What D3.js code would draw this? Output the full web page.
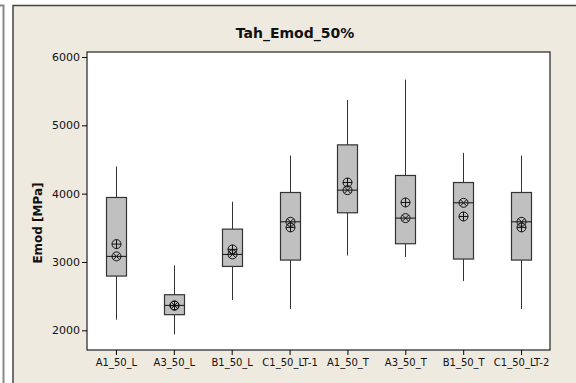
<!DOCTYPE html>
<html>
<head>
<meta charset="utf-8">
<title>Tah_Emod_50%</title>
<script src="https://d3js.org/d3.v7.min.js"></script>
<style>
    body { margin: 0; background: #fff; }
    svg { display: block; }
    text { font-family: "DejaVu Sans", Verdana, sans-serif; fill: #111; }
</style>
</head>
<body>
<div id="chart"></div>
<script>
    // values (MPa)
    const categories = ["A1_50_L", "A3_50_L", "B1_50_L", "C1_50_LT-1", "A1_50_T", "A3_50_T", "B1_50_T", "C1_50_LT-2"];
    const whiskerLow  = [2156, 1942, 2443, 2312, 3096, 3072, 2721, 2312];
    const q1          = [2794, 2229, 2935, 3028, 3720, 3267, 3043, 3028];
    const median      = [3082, 2365, 3111, 3588, 4051, 3642, 3866, 3588];
    const q3          = [3944, 2521, 3481, 4017, 4714, 4266, 4163, 4017];
    const whiskerHigh = [4397, 2950, 3881, 4558, 5372, 5669, 4597, 4558];
    const mean        = [3262, 2360, 3184, 3506, 4163, 3871, 3666, 3506];
    const yTicks = [2000, 3000, 4000, 5000, 6000];

    const width = 576, height = 383;
    const plot = { left: 87, right: 550, top: 52, bottom: 350 };

    const svg = d3.select("#chart").append("svg")
        .attr("width", width)
        .attr("height", height);

    // window background + frames
    svg.append("rect").attr("width", width).attr("height", height).attr("fill", "#fff");
    svg.append("rect")
        .attr("x", 13).attr("y", 5.5)
        .attr("width", width).attr("height", height)
        .attr("fill", "#eeeae0")
        .attr("stroke", "#444").attr("stroke-width", 1.5);
    svg.append("path")
        .attr("d", `M0,5.5H3.5V${height}`)
        .attr("fill", "none").attr("stroke", "#888").attr("stroke-width", 2);

    const x = d3.scalePoint()
        .domain(categories)
        .range([plot.left, plot.right])
        .padding(0.5);

    const y = d3.scaleLinear()
        .domain([1712, 6073])
        .range([plot.bottom, plot.top]);

    svg.append("rect")
        .attr("x", plot.left).attr("y", plot.top)
        .attr("width", plot.right - plot.left)
        .attr("height", plot.bottom - plot.top)
        .attr("fill", "#fff")
        .attr("stroke", "#222").attr("stroke-width", 1.2);

    // axes
    const yAxis = svg.append("g")
        .attr("transform", `translate(${plot.left},0)`)
        .call(d3.axisLeft(y).tickValues(yTicks).tickSize(5).tickPadding(2).tickFormat(d3.format("d")));
    yAxis.select(".domain").remove();
    yAxis.selectAll("text").style("font-size", "11px").attr("fill", "#111");

    const xAxis = svg.append("g")
        .attr("transform", `translate(0,${plot.bottom})`)
        .call(d3.axisBottom(x).tickSize(5).tickPadding(4));
    xAxis.select(".domain").remove();
    xAxis.selectAll("text").style("font-size", "10px").attr("fill", "#111");

    // boxes
    const boxW = 20;
    const rows = categories.map((c, i) => ({
        c, lo: whiskerLow[i], q1: q1[i], med: median[i], q3: q3[i], hi: whiskerHigh[i], mean: mean[i]
    }));

    const g = svg.append("g");
    const box = g.selectAll("g.box").data(rows).enter().append("g")
        .attr("class", "box")
        .attr("transform", d => `translate(${Math.round(x(d.c)) + 0.5},0)`);

    box.append("line")
        .attr("y1", d => y(d.hi)).attr("y2", d => y(d.q3))
        .attr("stroke", "#333");
    box.append("line")
        .attr("y1", d => y(d.q1)).attr("y2", d => y(d.lo))
        .attr("stroke", "#333");
    box.append("rect")
        .attr("x", -boxW / 2)
        .attr("y", d => y(d.q3))
        .attr("width", boxW)
        .attr("height", d => y(d.q1) - y(d.q3))
        .attr("fill", "#c0c0c0")
        .attr("stroke", "#333").attr("stroke-width", 1.2);
    box.append("line")
        .attr("x1", -boxW / 2).attr("x2", boxW / 2)
        .attr("y1", d => y(d.med)).attr("y2", d => y(d.med))
        .attr("stroke", "#111");

    // symbols: circle-cross at median, circle-plus at mean
    const r = 4.5;
    const sym = (sel, val, kind) => {
        const s = sel.append("g").attr("transform", d => `translate(0,${y(val(d))})`);
        s.append("circle").attr("r", r).attr("fill", "none").attr("stroke", "#111");
        const k = kind === "x" ? r * 0.707 : r;
        if (kind === "x") {
            s.append("path").attr("d", `M${-k},${-k}L${k},${k}M${-k},${k}L${k},${-k}`).attr("stroke", "#111");
        } else {
            s.append("path").attr("d", `M${-k},0H${k}M0,${-k}V${k}`).attr("stroke", "#111");
        }
    };
    sym(box, d => d.med, "x");
    sym(box, d => d.mean, "+");

    // titles
    svg.append("text")
        .attr("x", 295).attr("y", 38)
        .attr("text-anchor", "middle")
        .style("font-size", "14px").style("font-weight", "bold")
        .text("Tah_Emod_50%");

    svg.append("text")
        .attr("transform", "translate(42,223) rotate(-90)")
        .attr("text-anchor", "middle")
        .style("font-size", "12px").style("font-weight", "bold")
        .text("Emod [MPa]");
</script>
</body>
</html>
